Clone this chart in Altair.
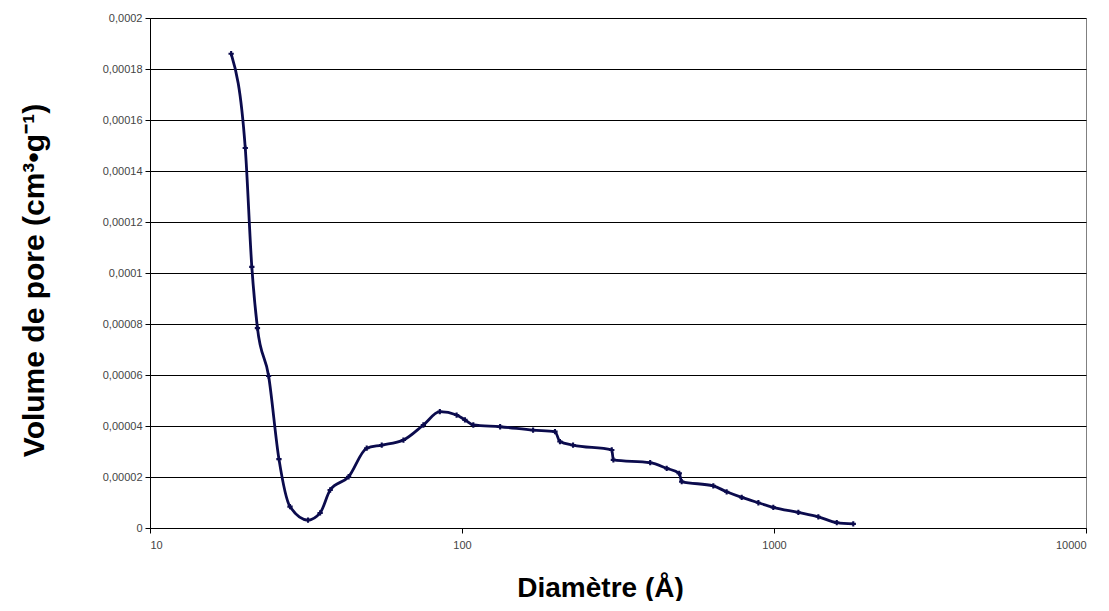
import altair as alt
import pandas as pd

diam = [18.2, 20.2, 21.2, 22.1, 24.0, 25.9, 28.1, 32.1, 35.1, 37.8, 43.3, 49.5, 55.3, 64.9,
        75.2, 84.9, 96.1, 102.2, 108.7, 132.5, 169, 198.6, 206, 227, 302, 305.6, 401, 453,
        497, 506, 639, 705, 788, 891, 995, 1197, 1387, 1589, 1795]
vol = [0.000186, 0.000149, 0.0001024, 0.0000784, 0.0000596, 0.000027, 0.0000084, 0.0000031,
       0.0000059, 0.0000149, 0.0000201, 0.0000313, 0.0000325, 0.0000345, 0.0000404, 0.0000456,
       0.0000443, 0.0000424, 0.0000404, 0.0000397, 0.0000384, 0.0000378, 0.0000339, 0.0000325,
       0.0000306, 0.0000267, 0.0000256, 0.0000234, 0.0000214, 0.0000182, 0.0000165, 0.0000142,
       0.000012, 0.0000099, 0.0000081, 0.0000061, 0.0000044, 0.0000021, 0.0000016]

y_ticks = [0, 0.00002, 0.00004, 0.00006, 0.00008, 0.0001, 0.00012, 0.00014, 0.00016, 0.00018, 0.0002]
x_ticks = [10, 100, 1000, 10000]

df = pd.DataFrame({"d": diam, "v": vol})

x = alt.X("d:Q", scale=alt.Scale(type="log", domain=[10, 10000], nice=False),
          axis=alt.Axis(values=x_ticks, format="d", grid=False, title="Diamètre (Å)",
                        titleFontSize=28, titleFont="Liberation Sans", titleFontWeight="bold",
                        titleColor="black", titleX=450, titleY=68, titleBaseline="alphabetic",
                        labelFont="Liberation Sans", labelFontSize=11, labelColor="#444",
                        labelPadding=6, tickSize=5, tickColor="black", domainColor="black"))
y = alt.Y("v:Q", scale=alt.Scale(domain=[0, 0.0002], nice=False),
          axis=alt.Axis(values=y_ticks,
                        labelExpr="replace(format(datum.value, '.5~f'), '.', ',')",
                        grid=True, gridColor="black", gridWidth=1,
                        title="Volume de pore (cm³•g⁻¹)",
                        titleFontSize=30, titleFont="Liberation Sans", titleFontWeight="bold",
                        titleColor="black", titleX=-107, titleY=262, titleBaseline="alphabetic",
                        titleAngle=270,
                        labelFont="Liberation Sans", labelFontSize=11, labelColor="#444",
                        labelPadding=3, tickSize=5, tickColor="black", domainColor="black"))

line = alt.Chart(df).mark_line(color="#0b0b4d", strokeWidth=2.8, interpolate="monotone").encode(x=x, y=y)
pts = alt.Chart(df).mark_point(shape="cross", filled=True, color="#0b0b4d", size=28, opacity=1).encode(x=x, y=y)

chart = (line + pts).properties(
    width=936, height=510,
    autosize=alt.AutoSizeParams(type="none"),
    padding={"left": 142, "top": 10, "right": 14, "bottom": 73},
    background="white",
).configure_view(stroke="#808080", strokeWidth=1)

chart.save("out.html", embed_options={"renderer": "svg", "actions": False})
